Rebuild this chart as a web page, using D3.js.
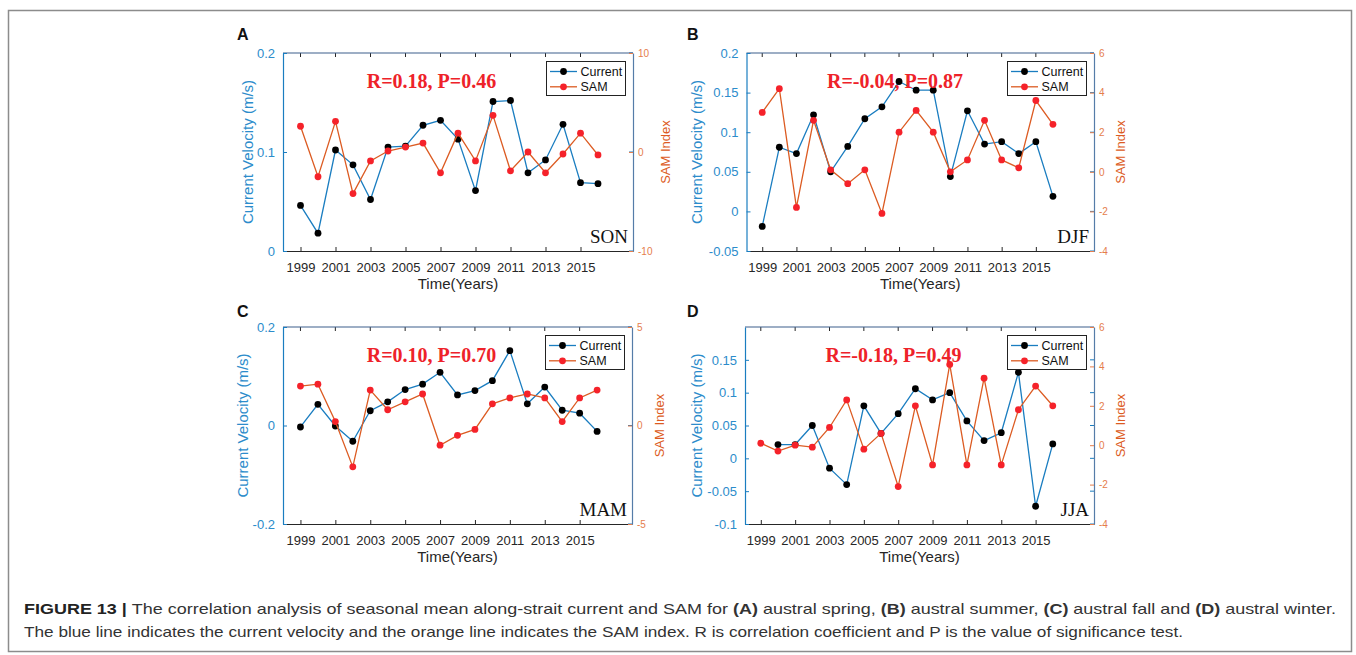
<!DOCTYPE html>
<html>
<head>
<meta charset="utf-8">
<script src="https://cdn.jsdelivr.net/npm/d3@7/dist/d3.min.js"></script>
<style>
body { margin: 0; background: #fff; }
svg text { font-family: "Liberation Sans", Arial, Helvetica, sans-serif; }
</style>
</head>
<body>
<svg id="fig" width="1356" height="655"></svg>
<script>

// years on the x axis
var years = [1999, 2000, 2001, 2002, 2003, 2004, 2005, 2006, 2007, 2008, 2009, 2010, 2011, 2012, 2013, 2014, 2015, 2016];
var yearTicks = [1999, 2001, 2003, 2005, 2007, 2009, 2011, 2013, 2015];

// SON (A)
var sonCurrent = [0.046, 0.018, 0.102, 0.087, 0.052, 0.105, 0.106, 0.127, 0.132, 0.113, 0.061, 0.151, 0.152, 0.079, 0.092, 0.128, 0.069, 0.068];
var sonSam = [2.6, -2.5, 3.1, -4.2, -0.9, 0.1, 0.5, 0.9, -2.1, 1.9, -0.9, 3.7, -1.9, 0.0, -2.1, -0.2, 1.9, -0.3];
// DJF (B)
var djfCurrent = [-0.019, 0.081, 0.073, 0.122, 0.050, 0.082, 0.117, 0.132, 0.164, 0.153, 0.153, 0.044, 0.127, 0.085, 0.088, 0.073, 0.088, 0.019];
var djfSam = [3.0, 4.2, -1.8, 2.6, 0.1, -0.6, 0.1, -2.1, 2.0, 3.1, 2.0, 0.0, 0.6, 2.6, 0.6, 0.2, 3.6, 2.4];
// MAM (C)
var mamCurrent = [-0.003, 0.043, -0.001, -0.032, 0.030, 0.048, 0.073, 0.084, 0.108, 0.062, 0.071, 0.091, 0.152, 0.044, 0.078, 0.031, 0.025, -0.012];
var mamSam = [2.0, 2.1, 0.2, -2.1, 1.8, 0.8, 1.2, 1.6, -1.0, -0.5, -0.2, 1.1, 1.4, 1.6, 1.4, 0.2, 1.4, 1.8];
// JJA (D)
var jjaCurrent = [null, 0.021, 0.021, 0.050, -0.015, -0.040, 0.080, 0.038, 0.068, 0.106, 0.089, 0.100, 0.057, 0.027, 0.039, 0.131, -0.073, 0.022];
var jjaSam = [0.1, -0.3, 0.0, -0.1, 0.9, 2.3, -0.2, 0.6, -2.1, 2.0, -1.0, 4.1, -1.0, 3.4, -1.0, 1.8, 3.0, 2.0];

// axis ticks
var sonLeftTicks = [0, 0.1, 0.2], sonRightTicks = [-10, 0, 10];
var djfLeftTicks = [-0.05, 0, 0.05, 0.1, 0.15, 0.2], djfRightTicks = [-4, -2, 0, 2, 4, 6];
var mamLeftTicks = [-0.2, 0, 0.2], mamRightTicks = [-5, 0, 5];
var jjaLeftTicks = [-0.1, -0.05, 0, 0.05, 0.1, 0.15], jjaRightTicks = [-4, -2, 0, 2, 4, 6];

var seasons = ["SON", "DJF", "MAM", "JJA"];
var panelLetters = ["A", "B", "C", "D"];
var statLabels = ["R=0.18, P=0.46", "R=-0.04, P=0.87", "R=0.10, P=0.70", "R=-0.18, P=0.49"];
var legendNames = ["Current", "SAM"];

var blue = "#1a7dc0", blueText = "#2c8ccb", orange = "#dc5b22", orangeText = "#e57d4c";
var red = "#f5222a", spine2 = "#557ca8", dark = "#262626";

var panels = [
	{ current: sonCurrent, sam: sonSam, left: [0, 0.2], leftTicks: sonLeftTicks, right: [-10, 10], rightTicks: sonRightTicks,
	  x0: 283, x1: 633, y0: 53, y1: 251, xDom: [1998, 2018], yTitleX: 248, rTitleX: 665, letterX: 237, letterY: 40 },
	{ current: djfCurrent, sam: djfSam, left: [-0.05, 0.2], leftTicks: djfLeftTicks, right: [-4, 6], rightTicks: djfRightTicks,
	  x0: 746.5, x1: 1094, y0: 53, y1: 251, xDom: [1998.08, 2018.4], yTitleX: 697, rTitleX: 1120, letterX: 687, letterY: 40 },
	{ current: mamCurrent, sam: mamSam, left: [-0.2, 0.2], leftTicks: mamLeftTicks, right: [-5, 5], rightTicks: mamRightTicks,
	  x0: 283, x1: 632, y0: 327, y1: 524, xDom: [1998, 2018], yTitleX: 243, rTitleX: 659, letterX: 237, letterY: 317 },
	{ current: jjaCurrent, sam: jjaSam, left: [-0.1, 0.2], leftTicks: jjaLeftTicks, right: [-4, 6], rightTicks: jjaRightTicks,
	  x0: 745, x1: 1094, y0: 327, y1: 524, xDom: [1998.08, 2018.4], yTitleX: 697, rTitleX: 1120, letterX: 687, letterY: 317 }
];

var svg = d3.select("#fig");

// outer frame
svg.append("rect")
	.attr("x", 8.5).attr("y", 10.5).attr("width", 1343).attr("height", 641)
	.attr("fill", "none").attr("stroke", "#8c8c8c").attr("stroke-width", 1.5);

function drawPanel(p, i) {
	var g = svg.append("g");
	var x = d3.scaleLinear().domain(p.xDom).range([p.x0, p.x1]);
	var yL = d3.scaleLinear().domain(p.left).range([p.y1, p.y0]);
	var yR = d3.scaleLinear().domain(p.right).range([p.y1, p.y0]);

	// mirrored ticks on top and right side
	g.selectAll(".topTick").data(yearTicks).enter().append("line")
		.attr("x1", function(d) { return x(d); }).attr("x2", function(d) { return x(d); })
		.attr("y1", p.y0).attr("y2", p.y0 + 4).attr("stroke", dark);
	g.selectAll(".rTick").data(p.leftTicks).enter().append("line")
		.attr("x1", p.x1).attr("x2", p.x1 - 4)
		.attr("y1", function(d) { return yL(d); }).attr("y2", function(d) { return yL(d); })
		.attr("stroke", blue);

	// top spine
	g.append("line").attr("x1", p.x0).attr("x2", p.x1).attr("y1", p.y0).attr("y2", p.y0)
		.attr("stroke", "#3c5f8c").attr("stroke-width", 1.2);

	// bottom axis
	var ax = g.append("g").attr("transform", "translate(0," + p.y1 + ")")
		.call(d3.axisBottom(x).tickValues(yearTicks).tickFormat(d3.format("d"))
			.tickSize(-4).tickSizeOuter(0).tickPadding(11.8));
	ax.attr("font-size", 13);
	ax.select(".domain").attr("stroke", dark).attr("stroke-width", 1.2);
	ax.selectAll(".tick line").attr("stroke", dark);
	ax.selectAll("text").attr("fill", dark);

	// left axis
	var axL = g.append("g").attr("transform", "translate(" + p.x0 + ",0)")
		.call(d3.axisLeft(yL).tickValues(p.leftTicks).tickFormat(function(d) { return String(d); })
			.tickSize(-4).tickSizeOuter(0).tickPadding(8));
	axL.attr("font-size", 13);
	axL.select(".domain").attr("stroke", blue).attr("stroke-width", 1.2);
	axL.selectAll(".tick line").attr("stroke", blue);
	axL.selectAll("text").attr("fill", blueText);

	// right axis
	var axR = g.append("g").attr("transform", "translate(" + p.x1 + ",0)")
		.call(d3.axisRight(yR).tickValues(p.rightTicks).tickFormat(function(d) { return String(d); })
			.tickSize(-4).tickSizeOuter(0).tickPadding(5));
	axR.attr("font-size", 10);
	axR.select(".domain").attr("stroke", spine2).attr("stroke-width", 1.2);
	axR.selectAll(".tick line").attr("stroke", orangeText);
	axR.selectAll("text").attr("fill", orangeText);

	// titles
	g.append("text").attr("transform", "translate(" + p.yTitleX + "," + ((p.y0 + p.y1) / 2) + ") rotate(-90)")
		.attr("text-anchor", "middle").attr("dy", "0.35em")
		.attr("font-size", 15).attr("fill", blueText).text("Current Velocity (m/s)");
	g.append("text").attr("transform", "translate(" + p.rTitleX + "," + ((p.y0 + p.y1) / 2) + ") rotate(-90)")
		.attr("text-anchor", "middle").attr("dy", "0.35em")
		.attr("font-size", 13).attr("fill", orange).text("SAM Index");
	g.append("text").attr("x", (p.x0 + p.x1) / 2).attr("y", p.y1 + 38)
		.attr("text-anchor", "middle").attr("font-size", 15).attr("fill", dark).text("Time(Years)");

	// panel letter
	g.append("text").attr("x", p.letterX).attr("y", p.letterY)
		.attr("font-size", 16).attr("font-weight", "bold").attr("fill", "#111").text(panelLetters[i]);

	// current line
	var curData = years.map(function(yr, k) { return { year: yr, v: p.current[k] }; })
		.filter(function(d) { return d.v != null; });
	var lineL = d3.line().x(function(d) { return x(d.year); }).y(function(d) { return yL(d.v); });
	g.append("path").datum(curData).attr("d", lineL)
		.attr("fill", "none").attr("stroke", blue).attr("stroke-width", 1.3);
	g.selectAll(".cdot").data(curData).enter().append("circle")
		.attr("cx", function(d) { return x(d.year); }).attr("cy", function(d) { return yL(d.v); })
		.attr("r", 3.4).attr("fill", "#000");

	// SAM line
	var samData = years.map(function(yr, k) { return { year: yr, v: p.sam[k] }; });
	var lineR = d3.line().x(function(d) { return x(d.year); }).y(function(d) { return yR(d.v); });
	g.append("path").datum(samData).attr("d", lineR)
		.attr("fill", "none").attr("stroke", orange).attr("stroke-width", 1.3);
	g.selectAll(".sdot").data(samData).enter().append("circle")
		.attr("cx", function(d) { return x(d.year); }).attr("cy", function(d) { return yR(d.v); })
		.attr("r", 3.4).attr("fill", red);

	// stats text and season label
	g.append("text").attr("x", p.x0 + 148.5).attr("y", p.y0 + 35)
		.attr("text-anchor", "middle").attr("font-size", 20).attr("font-weight", "bold")
		.style("font-family", "'Liberation Serif', 'Times New Roman', serif")
		.attr("fill", "#ee2229").text(statLabels[i]);
	g.append("text").attr("x", p.x1 - 5).attr("y", p.y1 - 8.5)
		.attr("text-anchor", "end").attr("font-size", 19)
		.style("font-family", "'Liberation Serif', 'Times New Roman', serif")
		.attr("fill", "#111").text(seasons[i]);

	// legend
	var lx = p.x1 - 86.5, ly = p.y0 + 8.5;
	var lg = g.append("g").attr("transform", "translate(" + lx + "," + ly + ")");
	lg.append("rect").attr("width", 79).attr("height", 34)
		.attr("fill", "#fff").attr("stroke", "#222").attr("stroke-width", 1);
	var lcol = [[blue, "#000"], [orange, red]];
	legendNames.forEach(function(name, k) {
		var cy = 10 + k * 15.3;
		lg.append("line").attr("x1", 3.5).attr("x2", 30.5).attr("y1", cy).attr("y2", cy)
			.attr("stroke", lcol[k][0]).attr("stroke-width", 1.3);
		lg.append("circle").attr("cx", 17).attr("cy", cy).attr("r", 3.4).attr("fill", lcol[k][1]);
		lg.append("text").attr("x", 34).attr("y", cy).attr("dy", "0.35em")
			.attr("font-size", 12.5).attr("fill", "#111").text(name);
	});
}

panels.forEach(drawPanel);

// caption
var cap1 = svg.append("text").attr("x", 24).attr("y", 614).attr("font-size", 15).attr("fill", "#333")
	.attr("textLength", 1312).attr("lengthAdjust", "spacingAndGlyphs");
cap1.append("tspan").attr("font-weight", "bold").attr("fill", "#222").text("FIGURE 13 | ");
cap1.append("tspan").text("The correlation analysis of seasonal mean along-strait current and SAM for ");
cap1.append("tspan").attr("font-weight", "bold").text("(A)");
cap1.append("tspan").text(" austral spring, ");
cap1.append("tspan").attr("font-weight", "bold").text("(B)");
cap1.append("tspan").text(" austral summer, ");
cap1.append("tspan").attr("font-weight", "bold").text("(C)");
cap1.append("tspan").text(" austral fall and ");
cap1.append("tspan").attr("font-weight", "bold").text("(D)");
cap1.append("tspan").text(" austral winter.");

svg.append("text").attr("x", 24).attr("y", 637).attr("font-size", 15).attr("fill", "#333")
	.attr("textLength", 1159).attr("lengthAdjust", "spacingAndGlyphs")
	.text("The blue line indicates the current velocity and the orange line indicates the SAM index. R is correlation coefficient and P is the value of significance test.");

</script>
</body>
</html>
